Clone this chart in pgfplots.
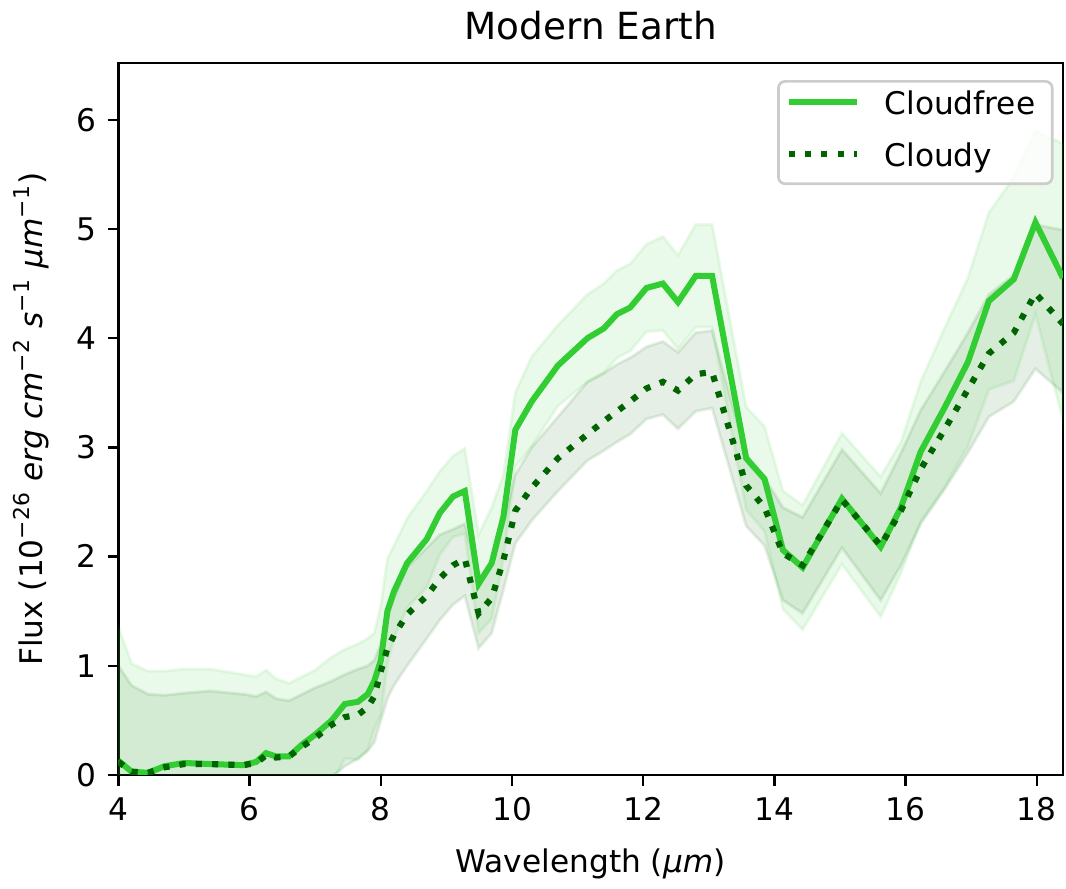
\documentclass[border=0pt]{standalone}
\usepackage{fontspec}
\setmainfont{DejaVu Sans}
\usepackage{pgfplots}
\pgfplotsset{compat=1.18}
\usepackage{pgfplotstable}
\usepgfplotslibrary{fillbetween}
\definecolor{limegreen}{RGB}{50,205,50}
\definecolor{dkgreen}{RGB}{0,100,0}

\pgfplotstableread{
x     cf   cfu   cfl    cd   cdu   cdl
4.0   0.13 1.35 -1.09  0.12 1.00 -0.76
4.2   0.03 1.02 -0.96  0.03 0.82 -0.76
4.45  0.02 0.95 -0.91  0.02 0.74 -0.70
4.7   0.08 0.95 -0.79  0.07 0.73 -0.59
5.0   0.11 0.97 -0.75  0.10 0.75 -0.55
5.4   0.10 0.97 -0.77  0.10 0.77 -0.57
5.9   0.09 0.92 -0.74  0.09 0.74 -0.56
6.1   0.12 0.90 -0.66  0.11 0.72 -0.50
6.25  0.20 0.96 -0.56  0.18 0.76 -0.40
6.4   0.17 0.88 -0.54  0.16 0.70 -0.38
6.6   0.17 0.84 -0.50  0.17 0.68 -0.34
6.8   0.28 0.90 -0.34  0.26 0.74 -0.22
7.0   0.37 0.96 -0.22  0.34 0.80 -0.12
7.25  0.50 1.08 -0.08  0.46 0.86 -0.02
7.45  0.65 1.15  0.15  0.53 0.92  0.08
7.65  0.67 1.20  0.14  0.55 0.97  0.15
7.8   0.74 1.25  0.23  0.62 1.00  0.22
7.9   0.86 1.30  0.42  0.72 1.05  0.30
8.0   1.05 1.55  0.55  0.95 1.20  0.50
8.1   1.50 1.98  1.02  1.16 1.45  0.70
8.2   1.68 2.10  1.26  1.28 1.62  0.82
8.4   1.94 2.35  1.53  1.47 1.90  1.00
8.7   2.16 2.60  1.72  1.64 2.08  1.25
8.9   2.40 2.78  2.02  1.80 2.20  1.42
9.1   2.55 2.92  2.18  1.92 2.25  1.56
9.28  2.60 2.99  2.21  1.98 2.30  1.64
9.49  1.75 2.20  1.30  1.48 1.80  1.16
9.69  1.94 2.45  1.43  1.62 1.95  1.30
9.87  2.37 2.75  1.99  1.97 2.30  1.70
10.05 3.16 3.50  2.82  2.42 2.75  2.12
10.3  3.42 3.83  3.01  2.63 3.00  2.33
10.7  3.75 4.12  3.38  2.90 3.28  2.60
11.15 4.00 4.40  3.60  3.12 3.60  2.88
11.4  4.09 4.50  3.68  3.24 3.68  2.97
11.6  4.22 4.62  3.82  3.33 3.76  3.05
11.8  4.28 4.68  3.88  3.42 3.82  3.12
12.05 4.46 4.86  4.06  3.54 3.92  3.26
12.3  4.50 4.93  4.07  3.60 3.97  3.30
12.53 4.33 4.76  3.90  3.52 3.87  3.17
12.8  4.57 5.04  4.10  3.67 4.05  3.33
13.05 4.57 5.04  4.10  3.69 4.07  3.36
13.57 2.90 3.37  2.43  2.65 2.93  2.28
13.85 2.71 3.19  2.23  2.45 2.72  2.10
14.13 2.06 2.60  1.52  2.03 2.45  1.60
14.43 1.90 2.47  1.33  1.92 2.36  1.48
15.03 2.53 3.13  1.93  2.52 2.98  2.08
15.62 2.09 2.73  1.45  2.10 2.58  1.60
15.93 2.45 3.05  1.85  2.42 2.95  1.92
16.23 2.96 3.60  2.32  2.80 3.34  2.30
16.6  3.37 4.10  2.64  3.17 3.70  2.62
16.95 3.78 4.55  3.01  3.53 4.05  2.95
17.27 4.34 5.15  3.53  3.86 4.40  3.28
17.65 4.54 5.47  3.61  4.05 4.58  3.42
17.98 5.06 5.90  4.22  4.41 5.04  3.72
18.4  4.55 5.78  3.25  4.13 4.99  3.50
}\data

\begin{document}
\begin{tikzpicture}
\begin{axis}[
  at={(0pt,0pt)}, anchor=south west,
  scale only axis, width=283.35pt, height=213.6pt,
  xmin=4, xmax=18.4, ymin=0, ymax=6.52,
  xtick={4,6,...,18}, ytick={0,1,...,6},
  tick pos=left, tick align=outside, major tick length=3.28pt,
  every tick/.style={black, line width=0.75pt},
  axis line style={line width=0.75pt},
  font=\fontsize{9.36}{11}\selectfont,
  /pgf/number format/assume math mode=true,
  ticklabel style={font=\fontsize{9.36}{11}\selectfont, inner sep=0pt, text height=6.8pt, text depth=0pt},
  xticklabel style={anchor=north, yshift=-3.28pt},
  yticklabel style={anchor=east, xshift=-3.28pt},
  title={Modern Earth},
  title style={at={(axis description cs:0.5,1)}, anchor=base, yshift=0.9pt, inner sep=0pt, font=\fontsize{11.2}{13}\selectfont},
  xlabel={Wavelength (\textit{μm})},
  xlabel style={at={(axis description cs:0.5,0)}, anchor=base, yshift=-29.4pt, inner sep=0pt},
  ylabel={Flux (10\textsuperscript{−26} \textit{erg cm}\textsuperscript{−2} \textit{s}\textsuperscript{−1} \textit{μm}\textsuperscript{−1})},
  ylabel style={at={(axis description cs:-0.0921,0.5)}, anchor=center, inner sep=0pt},
  legend style={at={(0.990,0.976)}, anchor=north east, draw=black!20, line width=0.8pt,
    rounded corners=2pt, fill=white, fill opacity=0.8, text opacity=1,
    inner xsep=2.1pt, inner ysep=3pt, row sep=6.5pt,
    font=\fontsize{9.36}{11}\selectfont,
    nodes={inner sep=0pt, text height=6.9pt, text depth=2.2pt},
    /tikz/every odd column/.append style={column sep=7.5pt}},
  legend cell align=left,
  legend image code/.code={\draw[#1] (0pt,1.3pt) -- (20.4pt,1.3pt);},
]
\addplot[draw=none, forget plot, name path=cfu] table[x=x, y=cfu] {\data};
\addplot[draw=none, forget plot, name path=cfl] table[x=x, y=cfl] {\data};
\addplot[draw=none, forget plot, name path=cdu] table[x=x, y=cdu] {\data};
\addplot[draw=none, forget plot, name path=cdl] table[x=x, y=cdl] {\data};
\addplot[forget plot, fill=limegreen, fill opacity=0.1, draw=limegreen, draw opacity=0.1, line width=0.9pt] fill between[of=cfu and cfl];
\addplot[forget plot, fill=dkgreen, fill opacity=0.1, draw=dkgreen, draw opacity=0.1, line width=0.9pt] fill between[of=cdu and cdl];
\addplot[limegreen, line width=1.8pt] table[x=x, y=cf] {\data};
\addlegendentry{Cloudfree\rule{3pt}{0pt}}
\addplot[dkgreen, line width=1.85pt, dash pattern=on 1.85pt off 3.05pt] table[x=x, y=cd] {\data};
\addlegendentry{Cloudy}
\end{axis}
\pgfresetboundingbox
\useasboundingbox (-35.55pt,-34.2pt) rectangle (284.25pt,232.5pt);
\end{tikzpicture}
\end{document}
